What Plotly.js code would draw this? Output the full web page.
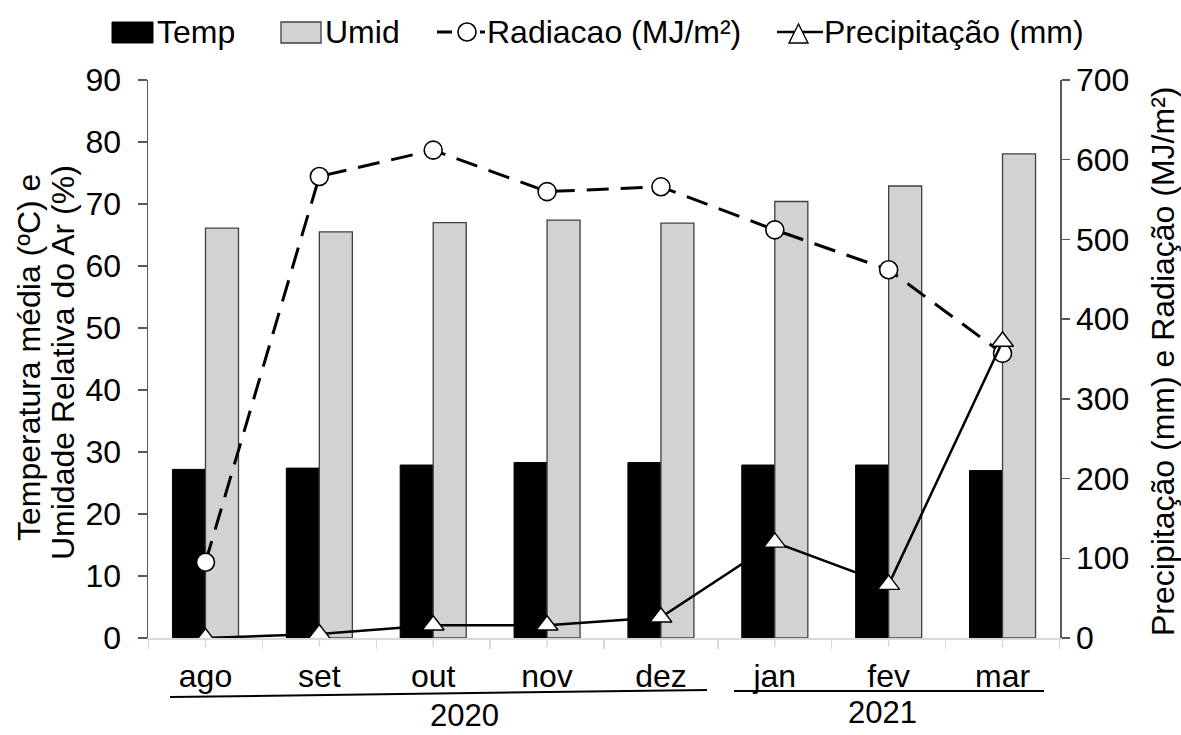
<!DOCTYPE html>
<html>
<head>
<meta charset="utf-8">
<script src="https://cdn.plot.ly/plotly-3.0.1.min.js"></script>
<style>html,body{margin:0;padding:0;background:#fff;}#chart{width:1181px;height:735px;}</style>
</head>
<body>
<div id="chart"></div>
<script>
// ---- data ----
const months = ['ago', 'set', 'out', 'nov', 'dez', 'jan', 'fev', 'mar'];
const temp = [27.2, 27.4, 27.9, 28.3, 28.3, 27.9, 27.9, 27.0];
const umid = [66.1, 65.5, 67.0, 67.4, 66.9, 70.4, 72.9, 78.1];
const radiacao = [95, 579, 612, 560, 566, 512, 462, 357];
const precip = [0, 5, 16, 16, 26, 120, 67, 372];
const leftTicks = [0, 10, 20, 30, 40, 50, 60, 70, 80, 90];
const rightTicks = [0, 100, 200, 300, 400, 500, 600, 700];
const years = ['2020', '2021'];

// ---- layout helpers (pixel -> paper) ----
const L = 148, R = 1060, T = 80, B = 638;
const px = x => (x - L) / (R - L);
const py = y => (B - y) / (B - T);
const FONT = 'Liberation Sans, Arial, sans-serif';
const FS = 32;

const traces = [
  {type: 'bar', name: 'Temp', x: months, y: temp,
   marker: {color: '#000000', line: {color: '#000000', width: 1}}},
  {type: 'bar', name: 'Umid', x: months, y: umid,
   marker: {color: '#d2d2d2', line: {color: '#404040', width: 1.3}}},
  {type: 'scatter', mode: 'lines+markers', name: 'Radiacao (MJ/m²)', x: months, y: radiacao, yaxis: 'y2',
   line: {color: '#000000', width: 3, dash: '22px,12px'},
   marker: {symbol: 'circle', size: 18, color: '#ffffff', line: {color: '#000000', width: 1.6}}},
  {type: 'scatter', mode: 'lines+markers', name: 'Precipitação (mm)', x: months, y: precip, yaxis: 'y2',
   line: {color: '#000000', width: 2.5},
   marker: {symbol: 'triangle-up', size: 19, color: '#ffffff', line: {color: '#000000', width: 1.4}}}
];

const shapes = [];
const annotations = [];

// center tick marks on x axis
months.forEach(m => shapes.push({type: 'line', xref: 'x', yref: 'paper', x0: m, x1: m,
  y0: 0, y1: py(647), line: {color: '#d9d9d9', width: 1.5}}));

// year underlines and labels
shapes.push({type: 'line', xref: 'paper', yref: 'paper', x0: px(170), y0: py(697), x1: px(707), y1: py(690),
  line: {color: '#000000', width: 2}});
shapes.push({type: 'line', xref: 'paper', yref: 'paper', x0: px(734), y0: py(691), x1: px(1044), y1: py(691),
  line: {color: '#000000', width: 2}});
annotations.push({xref: 'paper', yref: 'paper', x: px(464), y: py(716), text: years[0], showarrow: false,
  xanchor: 'center', yanchor: 'middle', borderpad: 0, font: {family: FONT, size: 31, color: '#000'}});
annotations.push({xref: 'paper', yref: 'paper', x: px(882), y: py(712), text: years[1], showarrow: false,
  xanchor: 'center', yanchor: 'middle', borderpad: 0, font: {family: FONT, size: 31, color: '#000'}});

// axis titles
annotations.push({xref: 'paper', yref: 'paper', x: px(29), y: py(358), text: 'Temperatura média (ºC) e',
  textangle: -90, showarrow: false, xanchor: 'center', yanchor: 'middle', font: {family: FONT, size: FS, color: '#000'}});
annotations.push({xref: 'paper', yref: 'paper', x: px(63), y: py(363), text: 'Umidade Relativa do Ar (%)',
  textangle: -90, showarrow: false, xanchor: 'center', yanchor: 'middle', font: {family: FONT, size: FS, color: '#000'}});
annotations.push({xref: 'paper', yref: 'paper', x: px(1163), y: py(362), text: 'Precipitação (mm) e Radiação (MJ/m²)',
  textangle: -90, showarrow: false, xanchor: 'center', yanchor: 'middle', font: {family: FONT, size: FS, color: '#000'}});

// manual legend
const ly = 32;
shapes.push({type: 'rect', xref: 'paper', yref: 'paper', x0: px(112), x1: px(153), y0: py(43), y1: py(22),
  fillcolor: '#000', line: {color: '#000', width: 1}});
annotations.push({xref: 'paper', yref: 'paper', x: px(155), y: py(ly), text: traces[0].name, showarrow: false,
  xanchor: 'left', yanchor: 'middle', font: {family: FONT, size: FS, color: '#000'}});
shapes.push({type: 'rect', xref: 'paper', yref: 'paper', x0: px(281), x1: px(321), y0: py(43), y1: py(22),
  fillcolor: '#d2d2d2', line: {color: '#404040', width: 1.3}});
annotations.push({xref: 'paper', yref: 'paper', x: px(323), y: py(ly), text: traces[1].name, showarrow: false,
  xanchor: 'left', yanchor: 'middle', font: {family: FONT, size: FS, color: '#000'}});
shapes.push({type: 'line', xref: 'paper', yref: 'paper', x0: px(437), x1: px(452), y0: py(ly), y1: py(ly),
  line: {color: '#000', width: 3}});
shapes.push({type: 'line', xref: 'paper', yref: 'paper', x0: px(480), x1: px(485), y0: py(ly), y1: py(ly),
  line: {color: '#000', width: 3}});
shapes.push({type: 'circle', xref: 'paper', yref: 'paper', x0: px(458), x1: px(476), y0: py(41), y1: py(23),
  fillcolor: '#fff', line: {color: '#000', width: 1.6}});
annotations.push({xref: 'paper', yref: 'paper', x: px(485), y: py(ly), text: traces[2].name, showarrow: false,
  xanchor: 'left', yanchor: 'middle', font: {family: FONT, size: FS, color: '#000'}});
shapes.push({type: 'line', xref: 'paper', yref: 'paper', x0: px(777), x1: px(823), y0: py(ly), y1: py(ly),
  line: {color: '#000', width: 2.5}});
shapes.push({type: 'path', xref: 'paper', yref: 'paper',
  path: 'M' + px(789) + ',' + py(43) + ' L' + px(808) + ',' + py(43) + ' L' + px(798.5) + ',' + py(24) + ' Z',
  fillcolor: '#fff', line: {color: '#000', width: 1.4}});
annotations.push({xref: 'paper', yref: 'paper', x: px(822), y: py(ly), text: traces[3].name, showarrow: false,
  xanchor: 'left', yanchor: 'middle', font: {family: FONT, size: FS, color: '#000'}});

const axisFont = {family: FONT, size: FS, color: '#000'};
const layout = {
  width: 1181, height: 735,
  margin: {l: L, r: 1181 - R, t: T, b: 735 - B, pad: 0},
  paper_bgcolor: '#fff', plot_bgcolor: '#fff',
  showlegend: false,
  barmode: 'group', bargap: 0.42, bargroupgap: 0,
  font: {family: FONT, color: '#000'},
  xaxis: {type: 'category', categoryorder: 'array', categoryarray: months,
    showline: true, linecolor: '#d9d9d9', linewidth: 1.5,
    ticks: 'outside', tickson: 'boundaries', ticklen: 9, tickwidth: 1.5, tickcolor: '#d9d9d9',
    tickfont: axisFont, showgrid: false, zeroline: false, ticklabelstandoff: 9},
  yaxis: {range: [0, 90], tickmode: 'array', tickvals: leftTicks,
    showline: true, linecolor: '#595959', linewidth: 1.5,
    ticks: 'outside', ticklen: 9, tickwidth: 1.5, tickcolor: '#595959',
    tickfont: axisFont, showgrid: false, zeroline: false, ticklabelstandoff: 10},
  yaxis2: {range: [0, 700], overlaying: 'y', side: 'right', tickmode: 'array', tickvals: rightTicks,
    showline: true, linecolor: '#595959', linewidth: 1.5,
    ticks: 'outside', ticklen: 8, tickwidth: 1.5, tickcolor: '#595959',
    tickfont: axisFont, showgrid: false, zeroline: false},
  shapes: shapes,
  annotations: annotations
};

Plotly.newPlot('chart', traces, layout, {displayModeBar: false, staticPlot: true});
</script>
</body>
</html>
